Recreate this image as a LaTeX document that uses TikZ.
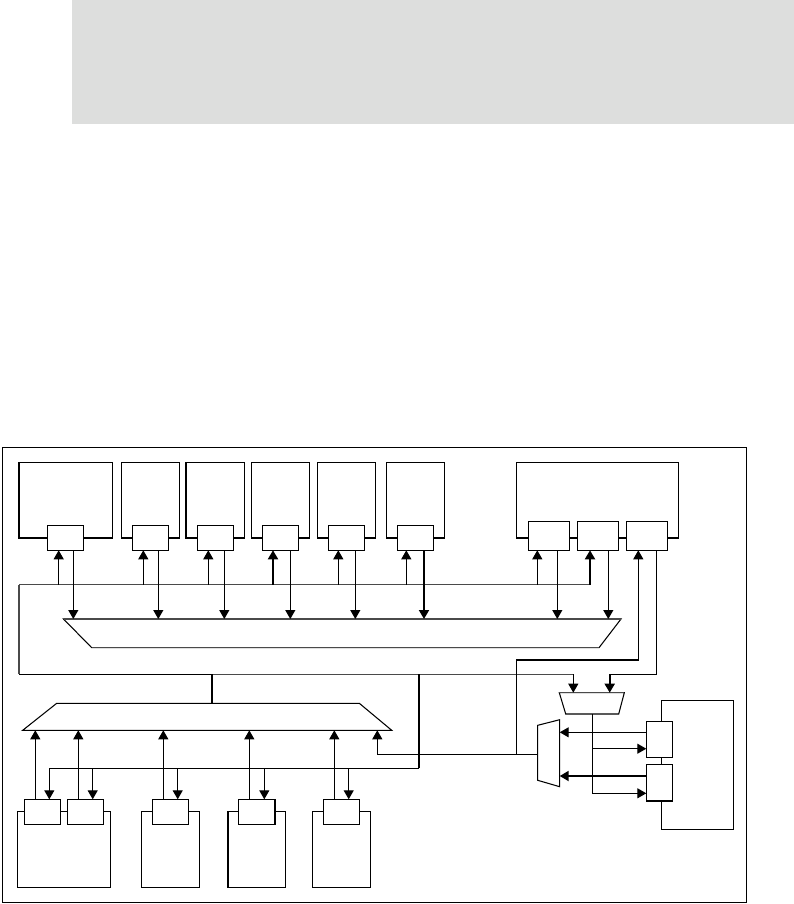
\documentclass[tikz,border=0pt]{standalone}
\usetikzlibrary{arrows.meta}
\definecolor{panelgrey}{HTML}{DDDEDD}
\definecolor{busgrey}{HTML}{4A4A4A}
\newcommand{\blk}[6][block]{%
  \pgfmathsetmacro{\bw}{#5-#3}\pgfmathsetmacro{\bh}{#6-#4}%
  \node[#1,minimum width=\bw pt,minimum height=\bh pt,anchor=north west] (#2) at (#3,#4) {};}
\tikzset{
  x=1pt,y=-1pt,
  block/.style={draw=black,line width=1.05pt,inner sep=0pt,outer sep=0pt,fill=white},
  edge thick/.style={line width=1.7pt},
  wire/.style={draw=black,line width=1.05pt},
  buswire/.style={draw=busgrey,line width=1.3pt},
  heavy/.style={draw=black,line width=1.9pt},
  tip/.style={-{Triangle[length=9pt,width=10pt]}},
  shapeline/.style={draw=black,line width=1.05pt,fill=white,line join=miter},
}
\begin{document}
\begin{tikzpicture}
\useasboundingbox (0,0) rectangle (794,904);
\fill[panelgrey] (72,0) rectangle (794,124);
\blk{outer}{2.5}{447.5}{746.5}{902.5}

% upper blocks
\blk{ba}{18.7}{462.5}{112.5}{538}
\blk{bb}{121.3}{462.5}{179.5}{538}
\blk{bc}{186}{462.5}{244.5}{538}
\blk{bd}{251.3}{462.5}{309.5}{538}
\blk{be}{317.3}{462.5}{375.5}{538}
\blk{bf}{386.3}{462.5}{444.3}{538}
\blk{bg}{516.3}{462.5}{678.3}{538}
\foreach \n in {ba,bb,bc,bd,be,bf,bg}
  \draw[edge thick] (\n.south west) -- (\n.south east);
\draw[edge thick] (ba.south west) -- (ba.north west);

% upper ports
\blk{pa}{47.3}{525.3}{83.3}{550.3}
\blk{pb}{132.3}{525.3}{168.3}{550.3}
\blk{pc}{197.3}{525.3}{233.3}{550.3}
\blk{pd}{262.3}{525.3}{298.3}{550.3}
\blk{pe}{328.3}{525.3}{364.3}{550.3}
\blk{pf}{397.3}{525.3}{433.7}{550.3}
\blk{pg}{528.3}{521.3}{569.7}{550.3}
\blk{ph}{577.3}{521.3}{618.7}{550.3}
\blk{pi}{626.3}{521.3}{667.7}{550.3}

% upper switch
\coordinate (swTL) at (63.5,619);
\coordinate (swTR) at (621,619);
\coordinate (swBR) at (599,647.7);
\coordinate (swBL) at (91.7,647.7);
\draw[shapeline] (swTL) -- (swTR) -- (swBR) -- (swBL) -- cycle;
\draw[buswire] (swTL) -- (swTR) (swBL) -- (swBR);

% lower switch
\coordinate (lwTL) at (56.7,703.3);
\coordinate (lwTR) at (359.3,703.3);
\coordinate (lwBR) at (391.7,730.3);
\coordinate (lwBL) at (22.7,730.3);
\draw[shapeline] (lwTL) -- (lwTR) -- (lwBR) -- (lwBL) -- cycle;

% small muxes
\coordinate (mxTL) at (559.3,692.7);
\coordinate (mxTR) at (624.3,692.7);
\coordinate (mxBR) at (618.7,714);
\coordinate (mxBL) at (565.7,714);
\draw[shapeline] (mxTL) -- (mxTR) -- (mxBR) -- (mxBL) -- cycle;
\draw[buswire] (mxTL) -- (mxTR);
\coordinate (myTL) at (537.7,725.3);
\coordinate (myTR) at (559.7,719.7);
\coordinate (myBR) at (559.7,786.7);
\coordinate (myBL) at (537.7,780.3);
\draw[shapeline] (myTL) -- (myTR) -- (myBR) -- (myBL) -- cycle;

% bus nets
\coordinate (busTL) at (19,584.7);
\coordinate (busTR) at (590,584.7);
\coordinate (busBL) at (19,674.4);
\coordinate (busBR) at (573.3,674.4);
\coordinate (busM) at (212,674.4);
\coordinate (busN) at (419,674.4);
\draw[buswire] (busTL) -- (busBL);
\draw[wire] (busBL) -- (busM);
\draw[buswire] (busTL) -- (busTR) (busM) -- (busBR);
\draw[wire,tip] (busBR) -- (573.3,0 |- mxTL);

\coordinate (rowB) at (49.3,768.3);
\coordinate (rowC) at (419,768.3);
\draw[heavy] (busM) -- (busM |- lwTL);
\draw[heavy] (busN) -- (rowC);

% upper arrows up
\draw[wire,tip] (58.7,0 |- busTL) -- (58.7,0 |- pa.south);
\draw[wire,tip] (143.3,0 |- busTL) -- (143.3,0 |- pb.south);
\draw[wire,tip] (208.3,0 |- busTL) -- (208.3,0 |- pc.south);
\draw[heavy,tip] (273,0 |- busTL) -- (273,0 |- pd.south);
\draw[wire,tip] (338.3,0 |- busTL) -- (338.3,0 |- pe.south);
\draw[wire,tip] (406.3,0 |- busTL) -- (406.3,0 |- pf.south);
\draw[wire,tip] (537.3,0 |- busTL) -- (537.3,0 |- pg.south);
\draw[heavy,tip] (busTR) -- (590,0 |- ph.south);

% upper arrows down
\draw[wire,tip] (73.3,0 |- pa.south) -- (73.3,0 |- swTL);
\draw[wire,tip] (158.3,0 |- pb.south) -- (158.3,0 |- swTL);
\draw[wire,tip] (224.3,0 |- pc.south) -- (224.3,0 |- swTL);
\draw[wire,tip] (290.3,0 |- pd.south) -- (290.3,0 |- swTL);
\draw[wire,tip] (355.3,0 |- pe.south) -- (355.3,0 |- swTL);
\draw[heavy,tip] (424,0 |- pf.south) -- (424,0 |- swTL);
\draw[wire,tip] (557.3,0 |- pg.south) -- (557.3,0 |- swTL);
\draw[wire,tip] (608.3,0 |- ph.south) -- (608.3,0 |- swTL);

% third port of right-hand block
\coordinate (loopA) at (638.3,660);
\coordinate (loopB) at (516.3,660);
\coordinate (loopC) at (516.3,754.4);
\draw[wire,tip] (myTL |- loopC) -- (loopC) -- (loopB) -- (loopA) -- (638.3,0 |- pi.south);
\coordinate (retA) at (656.3,674.4);
\coordinate (retB) at (609.7,674.4);
\draw[wire] (656.3,0 |- pi.south) -- (retA) -- (retB);
\draw[heavy,tip] (retB) -- (609.7,0 |- mxTL);

% feed to the lower switch
\coordinate (feedA) at (377.3,754.4);
\draw[wire,tip] (loopC) -- (feedA) -- (377.3,0 |- lwBL);

% lower ports and blocks
\blk{la}{17.3}{811.3}{110.3}{887.3}
\blk{lb}{141.3}{811.3}{199.3}{887.3}
\blk{lc}{227.7}{811.3}{285.3}{887.3}
\blk{ld}{312.3}{811.3}{370.3}{887.3}
\draw[edge thick] (lc.south west) -- (lc.north west);
\blk{qa}{24.3}{799.3}{60.7}{824.3}
\blk{qb}{67.3}{799.3}{103.3}{824.3}
\blk{qc}{152.3}{799.3}{188.7}{824.3}
\blk{qd}{238.3}{799.3}{275}{824.3}
\blk{qe}{323.3}{799.3}{359.7}{824.3}
\draw[edge thick] (qd.north east) -- (qd.south east);

% lower arrows up
\draw[wire,tip] (35.3,0 |- qa.north) -- (35.3,0 |- lwBL);
\draw[wire,tip] (78.3,0 |- qb.north) -- (78.3,0 |- lwBL);
\draw[wire,tip] (163.3,0 |- qc.north) -- (163.3,0 |- lwBL);
\draw[wire,tip] (249.3,0 |- qd.north) -- (249.3,0 |- lwBL);
\draw[wire,tip] (334.3,0 |- qe.north) -- (334.3,0 |- lwBL);

% lower arrows down
\draw[wire] (rowC) -- (rowB);
\draw[wire,tip] (rowB) -- (49.3,0 |- qa.north);
\draw[wire,tip] (92.7,0 |- rowB) -- (92.7,0 |- qb.north);
\draw[wire,tip] (177.7,0 |- rowB) -- (177.7,0 |- qc.north);
\draw[wire,tip] (264.3,0 |- rowB) -- (264.3,0 |- qd.north);
\draw[wire,tip] (348.7,0 |- rowB) -- (348.7,0 |- qe.north);

% right-hand unit
\blk{rb}{661.3}{700.3}{733.7}{829.3}
\blk{ra}{646.3}{721.3}{672.3}{757.3}
\blk{rc}{646.3}{764.3}{672.3}{801}
\draw[edge thick] (rc.south west) -- (rc.south east);

\draw[wire,tip] (ra.west |- 0,732.3) -- (myTR |- 0,732.3);
\draw[heavy,tip] (rc.west |- 0,776) -- (myTR |- 0,776);
\coordinate (stemA) at (592.3,748.7);
\coordinate (stemB) at (592.3,793.3);
\draw[wire] (592.3,0 |- mxBL) -- (stemB);
\draw[wire,tip] (stemA) -- (ra.west |- stemA);
\draw[wire,tip] (stemB) -- (rc.west |- stemB);
\end{tikzpicture}
\end{document}
